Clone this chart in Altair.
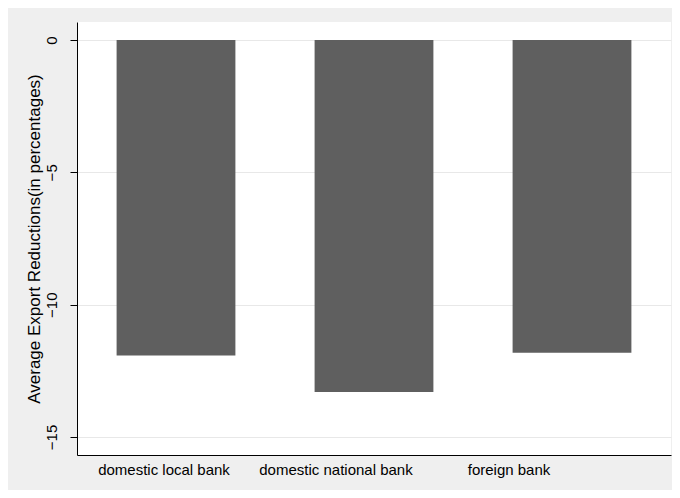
import altair as alt
import pandas as pd

categories = ["domestic local bank", "domestic national bank", "foreign bank"]
values = [-11.92, -13.30, -11.82]
y_ticks = [0, -5, -10, -15]

df = pd.DataFrame({"bank": categories, "reduction": values})

FONT = "Liberation Sans"

chart = (
    alt.Chart(df)
    .mark_bar(color="#5f5f5f")
    .encode(
        x=alt.X(
            "bank:N",
            sort=categories,
            title=None,
            scale=alt.Scale(paddingInner=0.4, paddingOuter=0.2),
            axis=alt.Axis(
                labelAngle=0,
                ticks=False,
                domainColor="black",
                domainWidth=1,
                labelFontSize=15,
                labelFont=FONT,
                labelColor="black",
                labelPadding=7,
                labelOffset={
                    "condition": [
                        {"test": "datum.value === 'domestic local bank'", "value": -12},
                        {"test": "datum.value === 'domestic national bank'", "value": -38},
                    ],
                    "value": -63,
                },
            ),
        ),
        y=alt.Y(
            "reduction:Q",
            title="Average Export Reductions(in percentages)",
            scale=alt.Scale(domain=[-15.68, 0.68], nice=False, zero=False),
            axis=alt.Axis(
                values=y_ticks,
                grid=True,
                gridColor="#e8e8e8",
                gridWidth=1,
                domainColor="black",
                domainWidth=1,
                tickColor="black",
                tickSize=7,
                labelAngle=270,
                labelAlign="center",
                labelBaseline="bottom",
                labelPadding=11,
                labelFontSize=15,
                labelFont=FONT,
                labelColor="black",
                titleFont=FONT,
                titleFontSize=17,
                titleFontWeight="normal",
                titleColor="black",
                titlePadding=1,
            ),
        ),
    )
    .properties(
        width=594,
        height=433,
        background="#efefef",
        padding={"left": 69, "top": 14, "right": 1, "bottom": 35},
        autosize=alt.AutoSizeParams(type="none"),
    )
    .configure_view(fill="white", stroke=None)
)

chart.save("out.html", embed_options={"renderer": "svg", "actions": False})
